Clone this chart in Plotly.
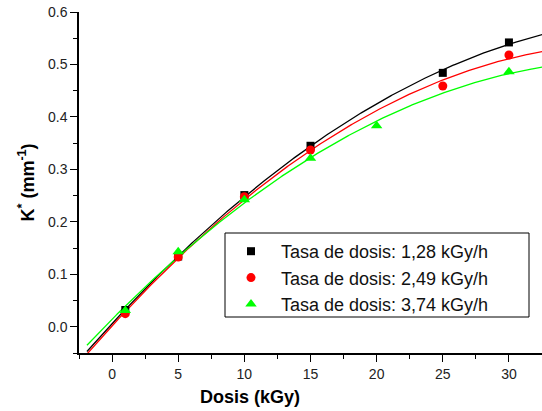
import numpy as np
import plotly.graph_objects as go

# Dose (kGy) and measured K* (mm^-1) for three dose rates
dose_128 = [1, 5, 10, 15, 25, 30]
k_128 = [0.032, 0.134, 0.251, 0.345, 0.484, 0.542]

dose_249 = [1, 5, 10, 15, 25, 30]
k_249 = [0.025, 0.133, 0.248, 0.337, 0.459, 0.518]

dose_374 = [1, 5, 10, 15, 20, 30]
k_374 = [0.031, 0.143, 0.242, 0.321, 0.383, 0.486]

labels = ["Tasa de dosis: 1,28 kGy/h",
          "Tasa de dosis: 2,49 kGy/h",
          "Tasa de dosis: 3,74 kGy/h"]

x_ticks = [0, 5, 10, 15, 20, 25, 30]

FONT = "Liberation Sans, Arial, sans-serif"

series = [
    (dose_128, k_128, labels[0], "#000000", "square", 8),
    (dose_249, k_249, labels[1], "#ff0000", "circle", 9),
    (dose_374, k_374, labels[2], "#00ff00", "triangle-up", 10),
]

fig = go.Figure()

x_fit = np.linspace(-1.9, 32.6, 300)
for xs, ys, name, color, symbol, size in series:
    # second-order polynomial fit through the measured points
    coef = np.polyfit(xs, ys, 2)
    fig.add_trace(go.Scatter(
        x=x_fit, y=np.polyval(coef, x_fit), mode="lines",
        line=dict(color=color, width=1.3), showlegend=False,
        hoverinfo="skip", cliponaxis=True))

for xs, ys, name, color, symbol, size in series:
    fig.add_trace(go.Scatter(
        x=xs, y=ys, mode="markers", name=name,
        marker=dict(symbol=symbol, size=size, color=color,
                    line=dict(width=0))))

axis_common = dict(
    showline=True, linecolor="black", linewidth=1.5,
    ticks="outside", ticklen=7, tickwidth=1.3, tickcolor="black",
    showgrid=False, zeroline=False, mirror=False,
    tickfont=dict(family=FONT, size=14, color="#222222"),
)

fig.update_xaxes(
    range=[-2.5, 32.5], tickvals=x_ticks,
    minor=dict(dtick=2.5, ticks="outside", ticklen=4, tickwidth=1.3,
               tickcolor="black", showgrid=False),
    **axis_common)
fig.update_yaxes(
    range=[-0.05, 0.6], dtick=0.1, tick0=0, tickformat=".1f",
    minor=dict(dtick=0.05, ticks="outside", ticklen=4, tickwidth=1.3,
               tickcolor="black", showgrid=False),
    **axis_common)

fig.add_annotation(
    text="<b>Dosis (kGy)</b>", xref="paper", yref="paper",
    x=0.3693, y=-0.128, xanchor="center", yanchor="middle",
    showarrow=False, font=dict(family=FONT, size=18, color="black"))
fig.add_annotation(
    text="<b>K<sup>*</sup> (mm<sup>-1</sup>)</b>", xref="paper", yref="paper",
    x=-0.1123, y=0.5, xanchor="center", yanchor="middle", textangle=-90,
    showarrow=False, font=dict(family=FONT, size=18, color="black"))

# legend frame
PW, PH = 463, 341
fig.add_shape(
    type="rect", xref="paper", yref="paper",
    x0=(225 - 79) / PW, x1=(529 - 79) / PW,
    y0=(353 - 317) / PH, y1=(353 - 233) / PH,
    line=dict(color="black", width=1), fillcolor="rgba(0,0,0,0)",
    layer="above")

fig.update_layout(
    width=542, height=411,
    margin=dict(l=79, r=0, t=12, b=58),
    paper_bgcolor="white", plot_bgcolor="white",
    font=dict(family=FONT, color="black"),
    legend=dict(
        x=(221 - 79) / PW, y=(353 - 233) / PH,
        xanchor="left", yanchor="top",
        bgcolor="rgba(0,0,0,0)", borderwidth=0,
        itemwidth=50, tracegroupgap=0,
        font=dict(family=FONT, size=18, color="#111111")),
)

fig.write_html("out.html")
